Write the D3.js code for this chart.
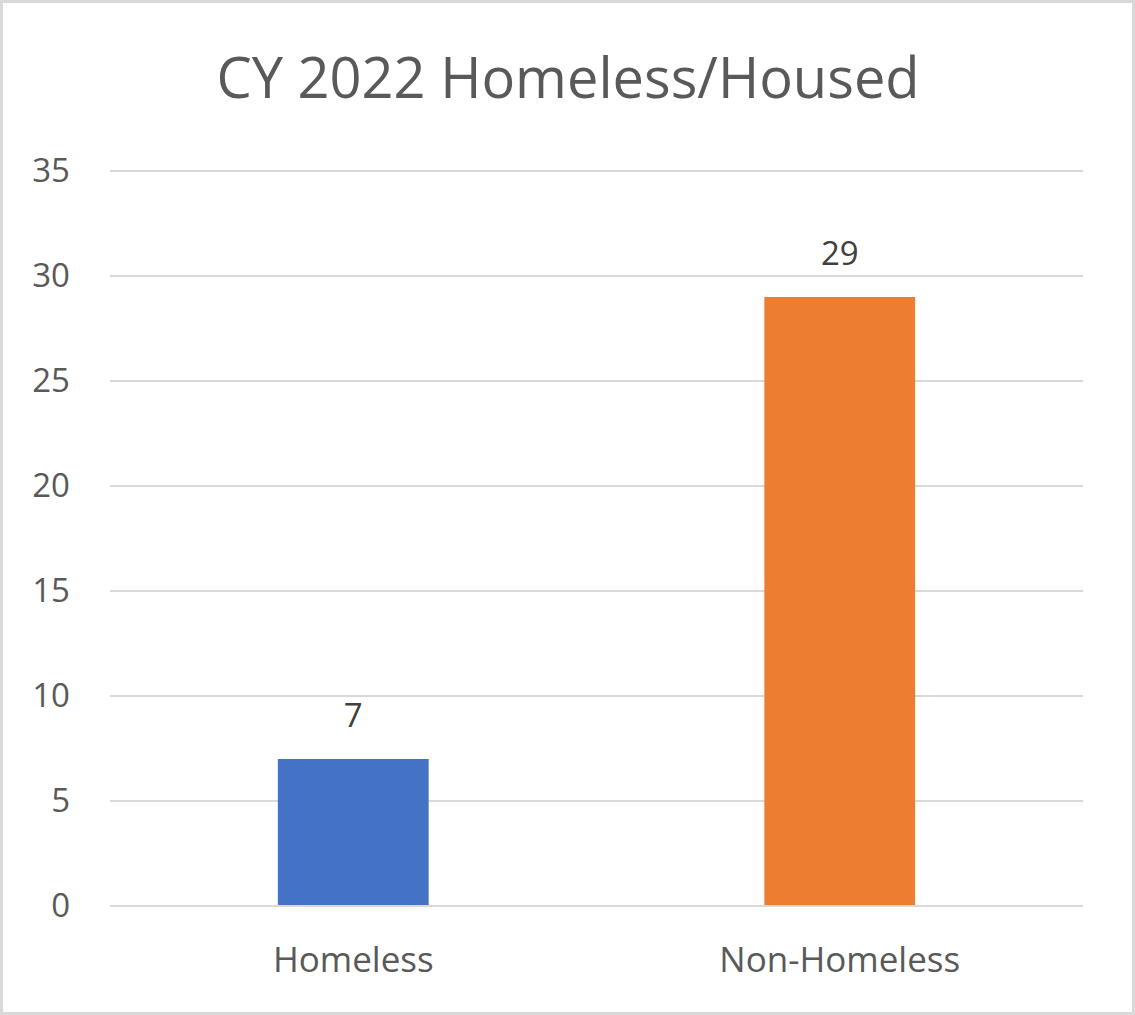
<!DOCTYPE html>
<html>
<head>
<meta charset="utf-8">
<script src="https://cdn.jsdelivr.net/npm/d3@7"></script>
<style>
  html, body { margin: 0; padding: 0; background: #fff; }
  svg { display: block; font-family: "Open Sans", sans-serif; }
</style>
</head>
<body>
<svg id="chart"></svg>
<script>
(function () {
    'use strict';

    // chart data
    const categories = ["Homeless", "Non-Homeless"];
    const counts = [7, 29];
    const barColors = ["#4472C4", "#ED7D31"];
    const yTicks = [0, 5, 10, 15, 20, 25, 30, 35];
    const chartTitle = "CY 2022 Homeless/Housed";

    const width = 1135;
    const height = 1015;
    const margin = {top: 171, right: 52, bottom: 109, left: 110};
    const textColor = "#595959";
    const gridColor = "#d9d9d9";

    const svg = d3.select("#chart")
            .attr("width", width)
            .attr("height", height);

    // outer border
    svg.append("rect")
            .attr("x", 1.5)
            .attr("y", 1.5)
            .attr("width", width - 3)
            .attr("height", height - 3)
            .attr("fill", "#fff")
            .attr("stroke", gridColor)
            .attr("stroke-width", 3);

    const x = d3.scaleBand()
            .domain(categories)
            .range([margin.left, width - margin.right])
            .paddingInner(0.69)
            .paddingOuter(0.345);

    const y = d3.scaleLinear()
            .domain([0, 35])
            .range([height - margin.bottom, margin.top]);

    // title
    svg.append("text")
            .attr("x", width / 2 + 0.5)
            .attr("y", 98)
            .attr("text-anchor", "middle")
            .attr("fill", textColor)
            .style("font-size", "56px")
            .text(chartTitle);

    // gridlines
    svg.append("g")
            .selectAll("line")
            .data(yTicks)
            .join("line")
            .attr("x1", margin.left)
            .attr("x2", width - margin.right)
            .attr("y1", d => y(d))
            .attr("y2", d => y(d))
            .attr("stroke", gridColor)
            .attr("stroke-width", 2);

    // y axis labels
    const yAxis = d3.axisLeft(y)
            .tickValues(yTicks)
            .tickSize(0)
            .tickPadding(40);

    svg.append("g")
            .attr("transform", `translate(${margin.left},0)`)
            .call(yAxis)
            .call(g => g.select(".domain").remove())
            .call(g => g.selectAll("text")
                    .attr("fill", textColor)
                    .style("font-size", "33px")
                    .style("font-family", "'Open Sans', sans-serif"));

    // bars
    svg.append("g")
            .selectAll("rect")
            .data(counts)
            .join("rect")
            .attr("x", (d, i) => x(categories[i]))
            .attr("y", d => y(d))
            .attr("width", x.bandwidth())
            .attr("height", d => y(0) - y(d))
            .attr("fill", (d, i) => barColors[i]);

    // axis line on top of bar bottoms
    svg.append("line")
            .attr("x1", margin.left)
            .attr("x2", width - margin.right)
            .attr("y1", y(0))
            .attr("y2", y(0))
            .attr("stroke", gridColor)
            .attr("stroke-width", 2);

    // value labels
    svg.append("g")
            .selectAll("text")
            .data(counts)
            .join("text")
            .attr("x", (d, i) => x(categories[i]) + x.bandwidth() / 2)
            .attr("y", d => y(d) - 32)
            .attr("text-anchor", "middle")
            .attr("fill", "#404040")
            .style("font-size", "33px")
            .text(d => d);

    // category labels
    const xAxis = d3.axisBottom(x)
            .tickSize(0)
            .tickPadding(41);

    svg.append("g")
            .attr("transform", `translate(0,${y(0)})`)
            .call(xAxis)
            .call(g => g.select(".domain").remove())
            .call(g => g.selectAll("text")
                    .attr("fill", textColor)
                    .style("font-size", "35px")
                    .style("font-family", "'Open Sans', sans-serif"));
}());
</script>
</body>
</html>
